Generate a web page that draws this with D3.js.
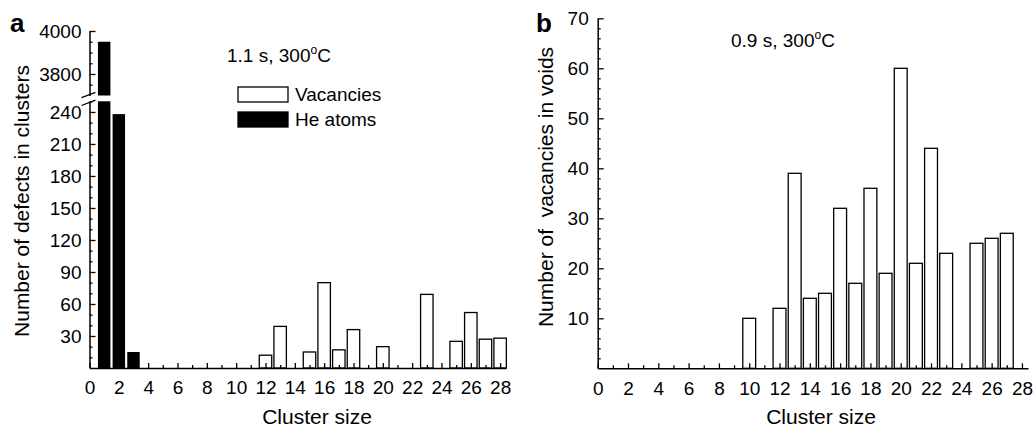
<!DOCTYPE html>
<html>
<head>
<meta charset="utf-8">
<script src="https://cdn.jsdelivr.net/npm/d3@7"></script>
<style>
  html, body { margin: 0; padding: 0; background: #fff; }
  svg { display: block; }
  text { font-family: "Liberation Sans", Arial, Helvetica, sans-serif; fill: #000; }
</style>
</head>
<body>
<svg id="chart" width="1033" height="429"></svg>
<script>
// ---------------- data ----------------
const vacSizesA = [12, 13, 15, 16, 17, 18, 20, 23, 25, 26, 27, 28];
const vacanciesA = [12, 39, 15, 80, 17, 36, 20, 69, 25, 52, 27, 28];
const heSizesA = [1, 2, 3];
const heAtomsA = [3950, 238, 15];

const sizesB = [10, 12, 13, 14, 15, 16, 17, 18, 19, 20, 21, 22, 23, 25, 26, 27];
const vacanciesB = [10, 12, 39, 14, 15, 32, 17, 36, 19, 60, 21, 44, 23, 25, 26, 27];

const xMajorTicks = [0, 2, 4, 6, 8, 10, 12, 14, 16, 18, 20, 22, 24, 26, 28];
const xMinorTicks = [1, 3, 5, 7, 9, 11, 13, 15, 17, 19, 21, 23, 25, 27];
const yTicksALow = [30, 60, 90, 120, 150, 180, 210, 240];
const yMinorALow = [10, 20, 40, 50, 70, 80, 100, 110, 130, 140, 160, 170, 190, 200, 220, 230, 250];
const yTicksAHigh = [3800, 4000];
const yMinorAHigh = [3750, 3850, 3900, 3950];
const yTicksB = [10, 20, 30, 40, 50, 60, 70];
const yMinorB = [2,4,6,8,12,14,16,18,22,24,26,28,32,34,36,38,42,44,46,48,52,54,56,58,62,64,66,68];

const legendLabels = ["Vacancies", "He atoms"];

// ---------------- layout ----------------
const svg = d3.select("#chart");
const TICK_FONT = 19;
const BAR_W = 0.85;
const fmt = d3.format("d");

function styleAxis(g) {
  g.attr("font-family", null).attr("font-size", null);
  g.selectAll("path.domain").attr("stroke", "#000").attr("stroke-width", 1.5);
  g.selectAll(".tick line").attr("stroke", "#000").attr("stroke-width", 1.3);
  g.selectAll(".tick text").style("font-size", TICK_FONT + "px")
    .style("font-family", "'Liberation Sans', Arial, sans-serif").attr("fill", "#000");
}

// ===== Panel a =====
const xA = d3.scaleLinear().domain([0, 28.4]).range([89.5, 506]);
const yALow = d3.scaleLinear().domain([0, 250]).range([368, 101.3]);
const yAHigh = d3.scaleLinear().domain([3700, 4000]).range([95.5, 31]);
const gA = svg.append("g");

// vacancy bars
gA.selectAll("rect.vac").data(vacSizesA.map((s, i) => ({ s, v: vacanciesA[i] })))
  .join("rect")
  .attr("x", d => xA(d.s - BAR_W / 2))
  .attr("width", d => xA(BAR_W) - xA(0))
  .attr("y", d => yALow(d.v))
  .attr("height", d => yALow(0) - yALow(d.v))
  .attr("fill", "#fff").attr("stroke", "#000").attr("stroke-width", 1.3);

// He bars (broken axis)
const heData = heSizesA.map((s, i) => ({ s, v: heAtomsA[i] }));
gA.selectAll("rect.heLow").data(heData).join("rect")
  .attr("x", d => xA(d.s - BAR_W / 2))
  .attr("width", d => xA(BAR_W) - xA(0))
  .attr("y", d => yALow(Math.min(d.v, 250)))
  .attr("height", d => yALow(0) - yALow(Math.min(d.v, 250)))
  .attr("fill", "#000");
gA.selectAll("rect.heHigh").data(heData.filter(d => d.v > 3700)).join("rect")
  .attr("x", d => xA(d.s - BAR_W / 2))
  .attr("width", d => xA(BAR_W) - xA(0))
  .attr("y", d => yAHigh(d.v))
  .attr("height", d => yAHigh(3700) - yAHigh(d.v))
  .attr("fill", "#000");

// x axis a
const gxA = gA.append("g").attr("transform", `translate(0,${yALow(0)})`)
  .call(d3.axisBottom(xA).tickValues(xMajorTicks).tickFormat(fmt).tickSizeInner(-5).tickSizeOuter(0));
styleAxis(gxA);
gxA.selectAll(".tick text").attr("dy", "0.71em").attr("y", 13);
const gxAm = gA.append("g").attr("transform", `translate(0,${yALow(0)})`)
  .call(d3.axisBottom(xA).tickValues(xMinorTicks).tickSizeInner(-3).tickSizeOuter(0).tickFormat(""));
gxAm.select("path.domain").remove();
styleAxis(gxAm);

// y axis a low
const gyAL = gA.append("g").attr("transform", `translate(${xA(0)},0)`)
  .call(d3.axisLeft(yALow).tickValues(yTicksALow).tickFormat(fmt).tickSizeInner(-6).tickSizeOuter(0).tickPadding(8));
styleAxis(gyAL);
const gyALm = gA.append("g").attr("transform", `translate(${xA(0)},0)`)
  .call(d3.axisLeft(yALow).tickValues(yMinorALow).tickSizeInner(-3).tickSizeOuter(0).tickFormat(""));
gyALm.select("path.domain").remove();
styleAxis(gyALm);

// y axis a high
const gyAH = gA.append("g").attr("transform", `translate(${xA(0)},0)`)
  .call(d3.axisLeft(yAHigh).tickValues(yTicksAHigh).tickFormat(fmt).tickSizeInner(-6).tickSizeOuter(0).tickPadding(8));
styleAxis(gyAH);
const gyAHm = gA.append("g").attr("transform", `translate(${xA(0)},0)`)
  .call(d3.axisLeft(yAHigh).tickValues(yMinorAHigh).tickSizeInner(-3).tickSizeOuter(0).tickFormat(""));
gyAHm.select("path.domain").remove();
styleAxis(gyAHm);

// break marks
[yAHigh(3700), yALow(250)].forEach((yy, i) => {
  const cy = i === 0 ? yy - 0.5 : yy + 1.5;
  gA.append("line")
    .attr("x1", xA(0) - 8).attr("y1", cy + 2.7)
    .attr("x2", xA(0) + 6).attr("y2", cy - 2.7)
    .attr("stroke", "#000").attr("stroke-width", 1.3);
});

// labels a
gA.append("text").attr("x", 10).attr("y", 32).style("font-size", "26px").style("font-weight", "bold").text("a");
gA.append("text").attr("transform", "translate(29,201) rotate(-90)").attr("text-anchor", "middle")
  .style("font-size", "21px").text("Number of defects in clusters");
gA.append("text").attr("x", 317).attr("y", 424).attr("text-anchor", "middle")
  .style("font-size", "21px").text("Cluster size");
const annA = gA.append("text").attr("x", 227).attr("y", 62).style("font-size", "19px");
annA.append("tspan").text("1.1 s, 300");
annA.append("tspan").attr("dy", -8).style("font-size", "12px").text("o");
annA.append("tspan").attr("dy", 8).text("C");

// legend
const legFills = ["#fff", "#000"];
legendLabels.forEach((lab, i) => {
  const ly = 87 + i * 25;
  gA.append("rect").attr("x", 238).attr("y", ly).attr("width", 50).attr("height", 15)
    .attr("fill", legFills[i]).attr("stroke", "#000").attr("stroke-width", 1.3);
  gA.append("text").attr("x", 295).attr("y", ly + 14).style("font-size", "19px").text(lab);
});

// ===== Panel b =====
const xB = d3.scaleLinear().domain([0, 28.4]).range([597.7, 1028]);
const yB = d3.scaleLinear().domain([0, 70]).range([368.3, 18.3]);
const gB = svg.append("g");

gB.selectAll("rect.vac").data(sizesB.map((s, i) => ({ s, v: vacanciesB[i] })))
  .join("rect")
  .attr("x", d => xB(d.s - BAR_W / 2))
  .attr("width", d => xB(BAR_W) - xB(0))
  .attr("y", d => yB(d.v))
  .attr("height", d => yB(0) - yB(d.v))
  .attr("fill", "#fff").attr("stroke", "#000").attr("stroke-width", 1.3);

const gxB = gB.append("g").attr("transform", `translate(0,${yB(0)})`)
  .call(d3.axisBottom(xB).tickValues(xMajorTicks).tickFormat(fmt).tickSizeInner(-5).tickSizeOuter(0));
styleAxis(gxB);
gxB.selectAll(".tick text").attr("dy", "0.71em").attr("y", 13);
const gxBm = gB.append("g").attr("transform", `translate(0,${yB(0)})`)
  .call(d3.axisBottom(xB).tickValues(xMinorTicks).tickSizeInner(-3).tickSizeOuter(0).tickFormat(""));
gxBm.select("path.domain").remove();
styleAxis(gxBm);

const gyB = gB.append("g").attr("transform", `translate(${xB(0)},0)`)
  .call(d3.axisLeft(yB).tickValues(yTicksB).tickFormat(fmt).tickSizeInner(-6).tickSizeOuter(0).tickPadding(9));
styleAxis(gyB);
const gyBm = gB.append("g").attr("transform", `translate(${xB(0)},0)`)
  .call(d3.axisLeft(yB).tickValues(yMinorB).tickSizeInner(-3).tickSizeOuter(0).tickFormat(""));
gyBm.select("path.domain").remove();
styleAxis(gyBm);

gB.append("text").attr("x", 536).attr("y", 32).style("font-size", "26px").style("font-weight", "bold").text("b");
gB.append("text").attr("transform", "translate(553,187) rotate(-90)").attr("text-anchor", "middle")
  .style("font-size", "21px").style("white-space", "pre").attr("xml:space", "preserve")
  .text("Number of  vacancies in voids");
gB.append("text").attr("x", 821).attr("y", 424).attr("text-anchor", "middle")
  .style("font-size", "21px").text("Cluster size");
const annB = gB.append("text").attr("x", 731).attr("y", 47).style("font-size", "19px");
annB.append("tspan").text("0.9 s, 300");
annB.append("tspan").attr("dy", -8).style("font-size", "12px").text("o");
annB.append("tspan").attr("dy", 8).text("C");
</script>
</body>
</html>
